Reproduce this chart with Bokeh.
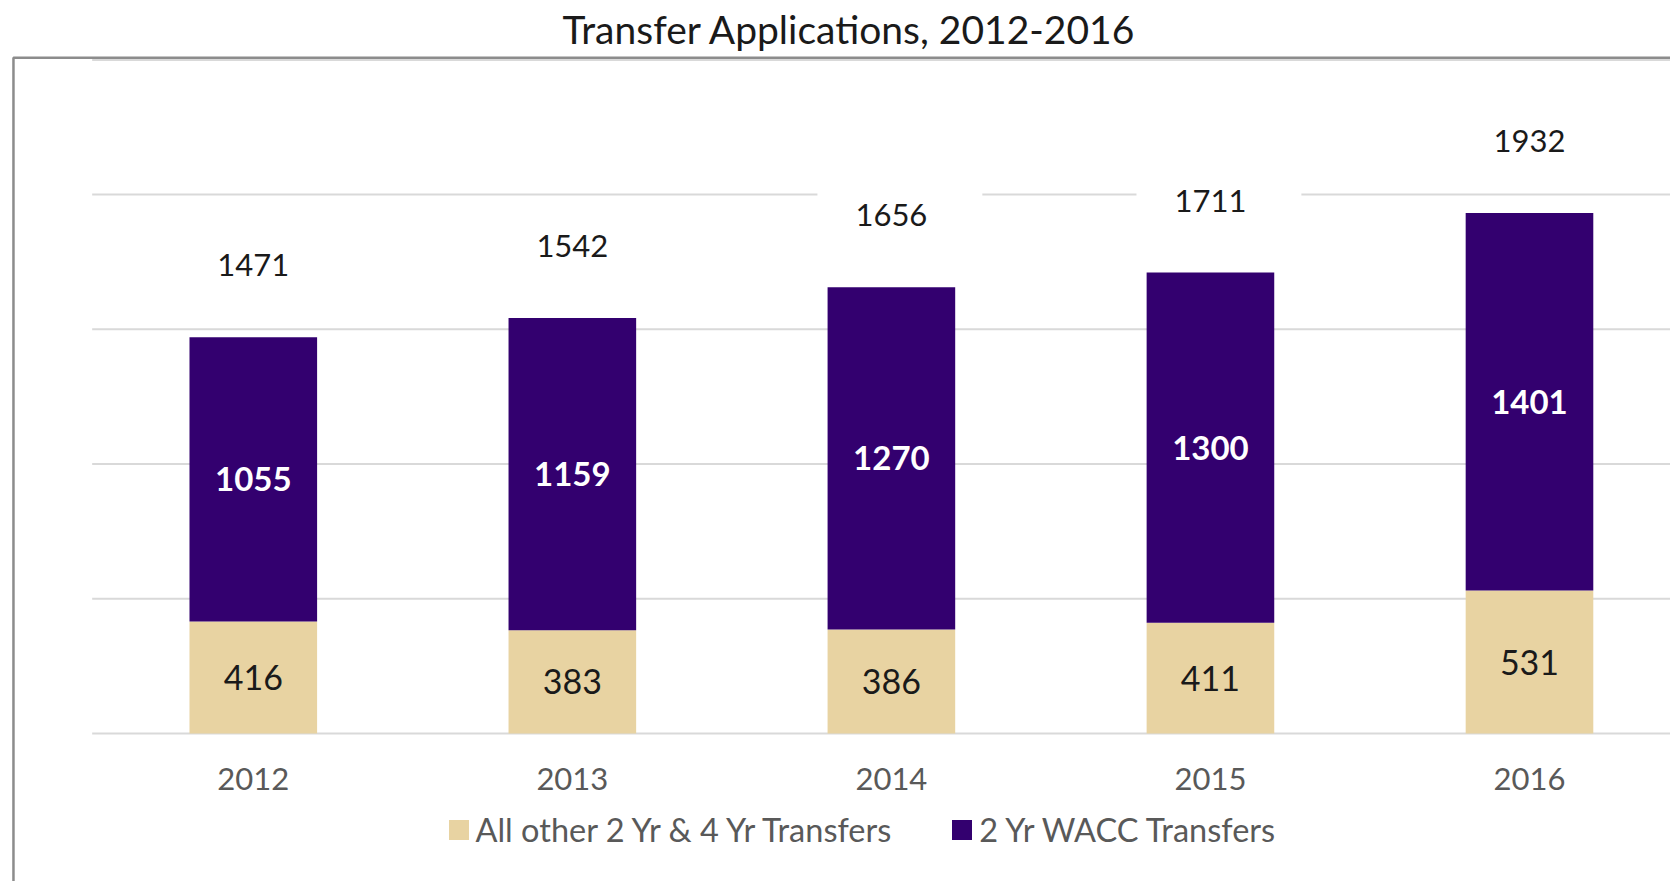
from bokeh.plotting import figure
from bokeh.models import Range1d, Legend, LegendItem, ColumnDataSource
from bokeh.core.properties import value
from bokeh.embed import file_html
from bokeh.resources import INLINE

# ---- data ----
years = ["2012", "2013", "2014", "2015", "2016"]
wacc = [1055, 1159, 1270, 1300, 1401]
other = [416, 383, 386, 411, 531]
totals = [1471, 1542, 1656, 1711, 1932]
grid_values = [0, 500, 1000, 1500, 2000, 2500]
series_names = ["All other 2 Yr & 4 Yr Transfers", "2 Yr WACC Transfers"]
colors = ["#E8D3A2", "#33006F"]
title_text = "Transfer Applications,  2012-2016"

FONT = "Lato"

xs = list(range(len(years)))
src = ColumnDataSource(dict(
    x=xs, year=years, other=other, wacc=wacc, total=totals,
    other_mid=[o / 2 for o in other],
    wacc_mid=[o + w / 2 for o, w in zip(other, wacc)],
    other_lbl=[str(v) for v in other],
    wacc_lbl=[str(v) for v in wacc],
    total_lbl=[str(v) for v in totals],
))
grid_src = ColumnDataSource(dict(
    x0=[-0.505] * len(grid_values), x1=[4.7] * len(grid_values),
    y=grid_values,
))

p = figure(width=1670, height=881, output_backend="svg", toolbar_location=None,
           x_range=Range1d(-0.761, 4.442), y_range=Range1d(-549, 2520),
           x_axis_location=None, y_axis_location=None,
           min_border_left=10, min_border_right=0, min_border_bottom=0,
           min_border_top=52, outline_line_color=None,
           background_fill_color="white", border_fill_color="white")
p.grid.visible = False

p.title.text = title_text
p.title.text_font = FONT
p.title.text_font_size = "39px"
p.title.text_font_style = "normal"
p.title.text_color = "#1a1a1a"
p.title.align = "left"
p.title.offset = 552
p.title.standoff = 6

# gridlines
p.segment(x0="x0", x1="x1", y0="y", y1="y", source=grid_src,
          line_color="#d9d9d9", line_width=2)

# stacked bars
rs = p.vbar_stack(["other", "wacc"], x="x", width=0.4, color=colors,
                  line_color=None, source=src)

# total labels above bars (white label boxes break the gridlines)
p.text(x="x", y="total", text="total_lbl", source=src, text_align="center",
       text_baseline="middle", x_offset=8.5, y_offset=-72,
       text_font=value(FONT), text_font_size="31px", text_color="#1a1a1a",
       background_fill_color="white",
       padding=dict(left=38, right=55, top=15, bottom=15))

# segment labels
p.text(x="x", y="other_mid", text="other_lbl", source=src, text_align="center",
       text_baseline="middle", text_font=value(FONT), text_font_size="34px",
       text_color="#1a1a1a")
p.text(x="x", y="wacc_mid", text="wacc_lbl", source=src, text_align="center",
       text_baseline="middle", text_font=value(FONT), text_font_size="33px",
       text_font_style="bold", text_color="white")

# category labels
p.text(x="x", y=0, text="year", source=src, text_align="center",
       text_baseline="middle", y_offset=45, text_font=value(FONT),
       text_font_size="31px", text_color="#595959")

# chart-area border (left and top edges visible)
p.quad(left=[-0.7517], right=[10], top=[2508], bottom=[-5000],
       fill_color=None, line_color="#8c8c8c", line_width=2.5)

legend = Legend(
    items=[LegendItem(label=series_names[i], renderers=[rs[i]]) for i in range(2)],
    location=(435.5, 32.5), orientation="horizontal",
    glyph_width=25, glyph_height=25, label_standoff=5, spacing=58,
    padding=0, margin=0, border_line_color=None, background_fill_alpha=0,
    label_text_font=FONT, label_text_font_size="32.5px",
    label_text_color="#595959")
p.add_layout(legend)

open("out.html", "w").write(file_html(p, INLINE))
